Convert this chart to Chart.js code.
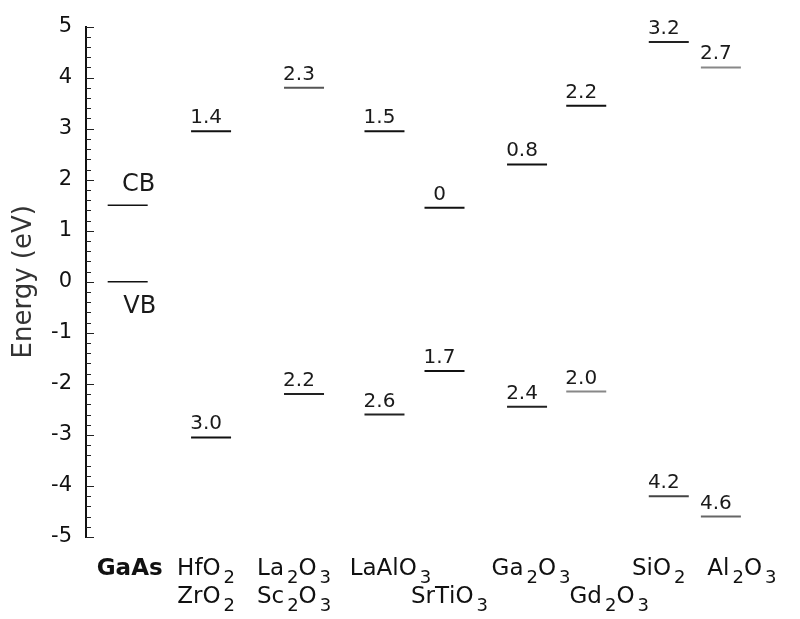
<!DOCTYPE html>
<html lang="en">
<head>
    <meta charset="UTF-8">
    <title>Band offsets on GaAs</title>
    <script src="https://cdn.jsdelivr.net/npm/chart.js"></script>
    <style>
        html, body { margin: 0; padding: 0; background: #fff; }
        #wrap { width: 800px; height: 619px; }
    </style>
</head>
<body>
    <div id="wrap"><canvas id="bands"></canvas></div>

    <script>
        // materials, left to right (top row / bottom row of the axis names)
        const namesTop = ['GaAs', 'HfO2', 'La2O3', 'LaAlO3', '', 'Ga2O3', '', 'SiO2', 'Al2O3'];
        const namesBottom = ['', 'ZrO2', 'Sc2O3', '', 'SrTiO3', '', 'Gd2O3', '', ''];
        // column position of each material on the x axis
        const xPos = [1, 3, 5.23, 7.16, 8.6, 10.58, 12, 13.98, 15.23];
        // conduction / valence band edges (eV)
        const cbEnergy = [1.5, 2.95, 3.8, 2.95, 1.45, 2.3, 3.45, 4.7, 4.2];
        const vbEnergy = [0, -3.05, -2.2, -2.6, -1.75, -2.45, -2.15, -4.2, -4.6];
        // offsets written above each level
        const cbLabels = ['CB', '1.4', '2.3', '1.5', '0', '0.8', '2.2', '3.2', '2.7'];
        const vbLabels = ['VB', '3.0', '2.2', '2.6', '1.7', '2.4', '2.0', '4.2', '4.6'];
        const yTicks = [-5, -4, -3, -2, -1, 0, 1, 2, 3, 4, 5];

        const FONT = "'DejaVu Sans', sans-serif";
        const cbColors = ['#111', '#111', '#555', '#111', '#111', '#111', '#111', '#222', '#888'];
        const vbColors = ['#111', '#111', '#222', '#222', '#111', '#222', '#888', '#444', '#666'];

        // draws a chemical formula, digits as subscripts, centred on cx
        function drawFormula(ctx, text, cx, base, bold) {
            const big = (bold ? 'bold ' : '') + '23px ' + FONT;
            const small = '18px ' + FONT;
            const parts = [];
            let w = 0;
            for (const ch of text) {
                const sub = /[0-9]/.test(ch);
                ctx.font = sub ? small : big;
                const cw = ctx.measureText(ch).width;
                const gap = sub ? 3 : 0;
                parts.push({ ch, sub, x: w + gap });
                w += cw + gap;
            }
            let x0 = cx - w / 2;
            ctx.fillStyle = '#111';
            ctx.textAlign = 'left';
            ctx.textBaseline = 'alphabetic';
            parts.forEach(p => {
                ctx.font = p.sub ? small : big;
                ctx.fillText(p.ch, x0 + p.x, base + (p.sub ? 8 : 0));
            });
        }

        const bandPlugin = {
            id: 'bandPlugin',
            afterDraw(chart) {
                const ctx = chart.ctx;
                const y = chart.scales.y;
                const x = chart.scales.x;
                const left = chart.chartArea.left;
                ctx.save();

                // inward tick marks, minor every 0.2 eV
                ctx.strokeStyle = '#222';
                ctx.lineWidth = 1;
                for (let i = -25; i <= 25; i++) {
                    const py = Math.round(y.getPixelForValue(i / 5)) + 0.5;
                    const len = i % 5 === 0 ? 8 : 5;
                    ctx.beginPath();
                    ctx.moveTo(left, py);
                    ctx.lineTo(left + len, py);
                    ctx.stroke();
                }

                // offset numbers over the levels
                const sets = [cbLabels, vbLabels];
                sets.forEach((labels, d) => {
                    const meta = chart.getDatasetMeta(d);
                    meta.data.forEach((pt, i) => {
                        ctx.fillStyle = '#1a1a1a';
                        ctx.textAlign = 'center';
                        ctx.textBaseline = 'alphabetic';
                        if (i === 0) {
                            ctx.font = '24px ' + FONT;
                            if (d === 0) ctx.fillText(labels[i], pt.x + 11, pt.y - 14);
                            else ctx.fillText(labels[i], pt.x + 12, pt.y + 31);
                        } else {
                            ctx.font = '20px ' + FONT;
                            ctx.fillText(labels[i], pt.x - 5, pt.y - 8);
                        }
                    });
                });

                // material names under the axis
                const nudge = [2, -5, -10, 6, 5, 4, 23, -10, 21];
                xPos.forEach((v, i) => {
                    const px = x.getPixelForValue(v) + nudge[i];
                    if (namesTop[i]) drawFormula(ctx, namesTop[i], px, 575, i === 0);
                    if (namesBottom[i]) drawFormula(ctx, namesBottom[i], px, 603, false);
                });
                ctx.restore();
            }
        };

        const ctx = document.getElementById('bands').getContext('2d');
        new Chart(ctx, {
            type: 'scatter',
            data: {
                datasets: [
                    {
                        label: 'CB',
                        data: xPos.map((v, i) => ({ x: v, y: cbEnergy[i] })),
                        pointStyle: 'line',
                        pointRadius: 20,
                        pointBorderWidth: cbColors.map((c, i) => i === 0 ? 1.5 : 2),
                        pointBorderColor: cbColors,
                        pointBackgroundColor: cbColors
                    },
                    {
                        label: 'VB',
                        data: xPos.map((v, i) => ({ x: v, y: vbEnergy[i] })),
                        pointStyle: 'line',
                        pointRadius: 20,
                        pointBorderWidth: vbColors.map((c, i) => i === 0 ? 1.5 : 2),
                        pointBorderColor: vbColors,
                        pointBackgroundColor: vbColors
                    }
                ]
            },
            options: {
                responsive: true,
                maintainAspectRatio: false,
                animation: false,
                events: [],
                layout: { padding: { top: 19, bottom: 82, left: 0, right: 0 } },
                plugins: {
                    legend: { display: false },
                    tooltip: { enabled: false }
                },
                scales: {
                    x: {
                        type: 'linear',
                        min: 0,
                        max: 16.6,
                        display: false
                    },
                    y: {
                        min: -5,
                        max: 5,
                        afterFit(scale) { scale.width = 86; },
                        afterBuildTicks(scale) { scale.ticks = yTicks.map(v => ({ value: v })); },
                        grid: { display: false, drawTicks: false },
                        border: { display: true, width: 2, color: '#111' },
                        ticks: {
                            padding: 14,
                            color: '#111',
                            font: { family: FONT, size: 21 }
                        },
                        title: {
                            display: true,
                            text: 'Energy (eV)',
                            color: '#333',
                            padding: { top: 9, bottom: 0 },
                            font: { family: FONT, size: 26 }
                        }
                    }
                }
            },
            plugins: [bandPlugin]
        });
    </script>
</body>
</html>
